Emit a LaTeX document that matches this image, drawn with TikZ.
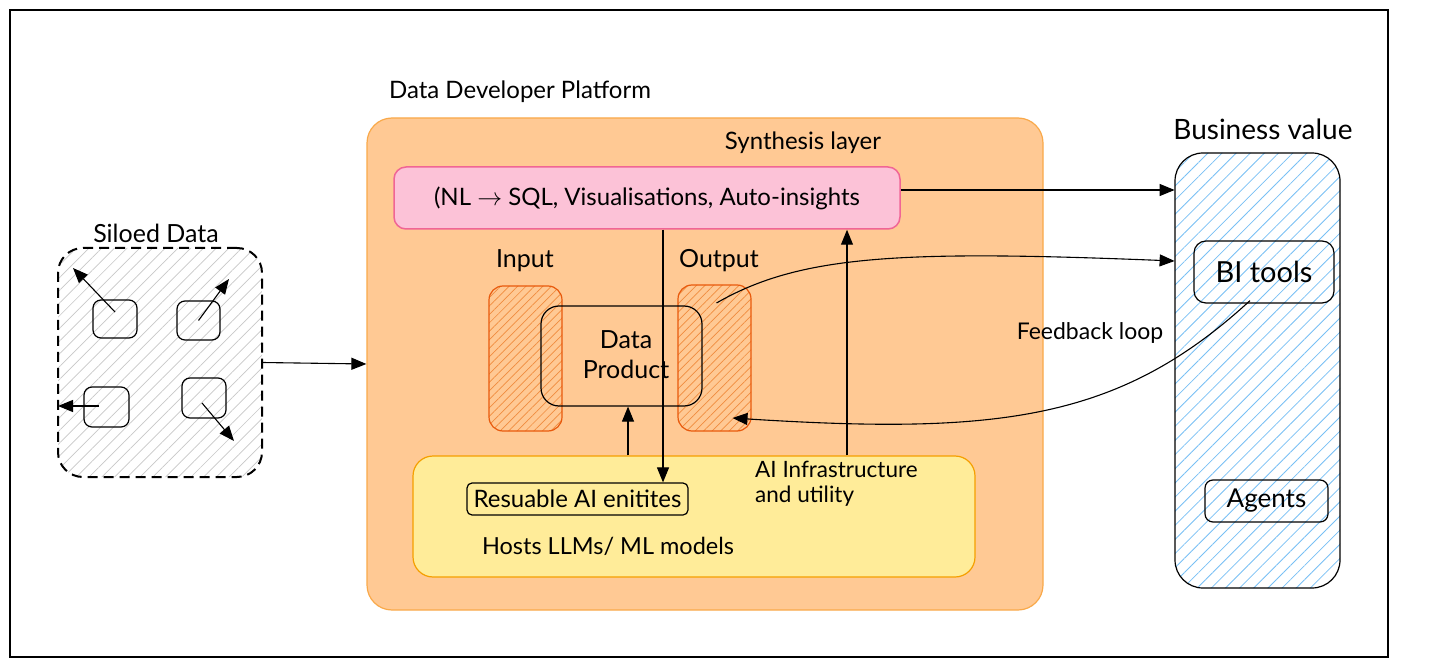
\documentclass[tikz,border=0pt]{standalone}
\usepackage{fontspec}
\setmainfont{Lato}
\usetikzlibrary{arrows.meta,patterns.meta,calc}
\definecolor{platfill}{RGB}{255,201,148}
\definecolor{platdraw}{RGB}{249,169,74}
\definecolor{pinkfill}{RGB}{252,194,215}
\definecolor{pinkdraw}{RGB}{240,101,149}
\definecolor{yelfill}{RGB}{255,236,153}
\definecolor{yeldraw}{RGB}{245,159,0}
\definecolor{ordraw}{RGB}{232,89,12}
\definecolor{orhatch}{RGB}{240,140,62}
\definecolor{bluehatch}{RGB}{120,192,245}
\definecolor{grayhatch}{RGB}{200,200,200}
\tikzset{
  box/.style={draw, inner sep=0pt, line width=1.2pt},
  hatchgray/.style={pattern={Lines[angle=45,distance=9pt,line width=0.7pt]}, pattern color=grayhatch},
  hatchor/.style={pattern={Lines[angle=45,distance=6pt,line width=0.7pt]}, pattern color=orhatch},
  hatchblue/.style={pattern={Lines[angle=45,distance=10pt,line width=0.8pt]}, pattern color=bluehatch},
  arr/.style={line width=1.1pt, -{Triangle[length=15pt,width=12pt]}},
  lbl/.style={inner sep=0pt, align=center, text=black}
}
\begin{document}
\begin{tikzpicture}[x=1pt,y=-1pt]
\useasboundingbox (0,0) rectangle (1456,668);
\fill[white] (0,0) rectangle (1456,668);
\draw[line width=1.5pt] (10,10) rectangle (1388,657);

% Siloed data
\node[box, dashed, dash pattern=on 10pt off 6pt, line width=2pt, rounded corners=25pt, hatchgray,
      minimum width=204pt, minimum height=229pt] (silo) at (160,362.5) {};
\node[lbl, font=\fontsize{25}{28}\selectfont] (silot) at (156,233) {Siloed Data};
\node[box, rounded corners=8pt, minimum width=44pt, minimum height=38pt] (s1) at (115,319) {};
\node[box, rounded corners=8pt, minimum width=43pt, minimum height=39pt] (s2) at (198.5,320.5) {};
\node[box, rounded corners=8pt, minimum width=45pt, minimum height=40pt] (s3) at (106.5,407) {};
\node[box, rounded corners=8pt, minimum width=44pt, minimum height=40pt] (s4) at (204,398) {};
\coordinate (e1) at (73,268);
\coordinate (e2) at (229,279);
\coordinate (e3) at (58,406);
\coordinate (e4) at (234,441);
\draw[arr] ($(s1.center)+(0,-7)$) -- (e1);
\draw[arr] (s2.center) -- (e2);
\draw[arr] ($(s3.center)+(-8,-1)$) -- (e3);
\draw[arr] ($(s4.center)+(-2,5)$) -- (e4);

% Platform
\node[lbl, font=\fontsize{24}{28}\selectfont] (platt) at (520,92) {Data Developer Platform};
\node[draw=platdraw, fill=platfill, line width=1.2pt, rounded corners=25pt, inner sep=0pt,
      minimum width=676pt, minimum height=492pt] (plat) at (705,364) {};
\node[lbl, font=\fontsize{24}{28}\selectfont] (synt) at (803,143) {Synthesis layer};
\node[draw=pinkdraw, fill=pinkfill, line width=1.5pt, rounded corners=12pt, inner sep=0pt,
      minimum width=506pt, minimum height=62pt, font=\fontsize{24}{28}\selectfont] (pink) at (647,198)
      {(NL $\rightarrow$ SQL, Visualisations, Auto-insights};
\node[draw=yeldraw, fill=yelfill, line width=1.2pt, rounded corners=20pt, inner sep=0pt,
      minimum width=562pt, minimum height=121pt] (yel) at (694,516.5) {};

\node[lbl, font=\fontsize{25}{28}\selectfont] (inl) at (525,261) {Input};
\node[lbl, font=\fontsize{25}{28}\selectfont] (outl) at (719,261) {Output};
\node[draw=ordraw, line width=1.2pt, rounded corners=14pt, hatchor, inner sep=0pt,
      minimum width=73pt, minimum height=145pt] (inp) at (525.5,358.5) {};
\node[draw=ordraw, line width=1.2pt, rounded corners=14pt, hatchor, inner sep=0pt,
      minimum width=73pt, minimum height=146pt] (outp) at (714.5,358) {};
\node[box, rounded corners=18pt, minimum width=161pt, minimum height=100pt] (dp) at (621.5,356) {};
\node[lbl, font=\fontsize{25}{30}\selectfont] (dpt) at (626,355) {Data\\Product};

\node[box, rounded corners=5pt, minimum width=221pt, minimum height=32pt,
      font=\fontsize{24}{26}\selectfont] (reu) at (577.5,499) {Resuable AI enitites};
\node[lbl, align=left, anchor=west, font=\fontsize{22.5}{25}\selectfont] (aiinf) at (755,484)
      {AI Infrastructure\\and utility};
\node[lbl, font=\fontsize{23.5}{26}\selectfont] (hosts) at (608,546) {Hosts LLMs/ ML models};

% Business value
\node[lbl, font=\fontsize{28}{32}\selectfont] (bvt) at (1263,129) {Business value};
\node[box, rounded corners=28pt, hatchblue, minimum width=165pt, minimum height=435pt] (bv) at (1257.5,370.5) {};
\node[box, rounded corners=12pt, minimum width=140pt, minimum height=62pt,
      font=\fontsize{29}{32}\selectfont] (bi) at (1264,272) {BI tools};
\node[box, rounded corners=8pt, minimum width=123pt, minimum height=42pt,
      font=\fontsize{26}{28}\selectfont] (ag) at (1266.5,501) {Agents};

% Connectors
\draw[arr] (silo.east) -- (plat.west);
\coordinate (pk) at ($(pink.east)+(0,-8)$);
\draw[arr] (pk) -- (pk -| bv.west);
\coordinate (xd) at (663,0);
\draw[arr] (pink.south -| xd) -- (reu.north -| xd);
\coordinate (xu) at (628,0);
\draw[arr] (yel.north -| xu) -- (dp.south -| xu);
\coordinate (xa) at (847,0);
\draw[arr] (yel.north -| xa) -- (pink.south -| xa);
\coordinate (os) at ($(outp.center)+(2,-55)$);
\coordinate (bvin) at ($(bi.center)+(0,-11)$);
\draw[arr] (os) .. controls (800,255) and (900,250) .. (bvin -| bv.west);
\coordinate (fbs) at ($(bi.south)+(-14,-3)$);
\coordinate (fbe) at ($(outp.center)+(18,60)$);
\draw[arr] (fbs) .. controls (1120,420) and (1000,435) .. (fbe);
\node[lbl, font=\fontsize{23}{26}\selectfont] (fbl) at (1090,333) {Feedback loop};
\end{tikzpicture}
\end{document}
